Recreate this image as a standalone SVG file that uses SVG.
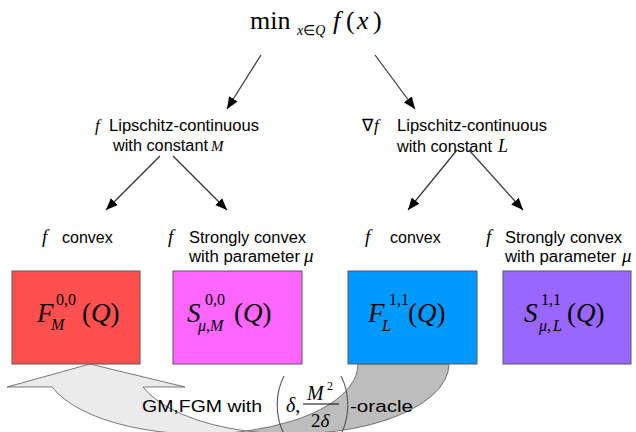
<svg xmlns="http://www.w3.org/2000/svg" width="636" height="432" viewBox="0 0 636 432">
<style>
.t{font-family:"Liberation Sans",Arial,sans-serif;font-size:16px;fill:#000}
.m{font-family:"Liberation Serif","Times New Roman",serif;font-style:italic;fill:#000}
.u{font-family:"Liberation Serif","Times New Roman",serif;font-style:normal;fill:#000}
.i{font-style:italic}
.n{font-style:normal}
.box{stroke:#595959;stroke-width:1}
.arr{stroke:#333;stroke-width:1.2;fill:none;marker-end:url(#ah)}
.rib{stroke:#595959;stroke-width:0.8}
.par{stroke:#555;stroke-width:1.1;fill:none}
</style>
<defs>
<marker id="ah" markerUnits="userSpaceOnUse" markerWidth="12" markerHeight="10" refX="12" refY="5" orient="auto" viewBox="0 0 12 10"><path d="M0,0 L12,5 L0,10 z" fill="#000"/></marker>
</defs>
<rect width="636" height="432" fill="#fff"/>

<g id="title">
<text class="u" x="250" y="29" font-size="26">min</text>
<text class="m" x="297" y="35" font-size="14">x<tspan class="n">∈</tspan>Q</text>
<text class="m" x="333" y="29" font-size="26">f</text>
<text class="u" x="346" y="29" font-size="26">(</text>
<text class="m" x="357" y="29" font-size="26">x</text>
<text class="u" x="373" y="29" font-size="26">)</text>
</g>

<g id="connectors">
<path class="arr" d="M261,55 L227,109"/>
<path class="arr" d="M375,55 L415,109"/>
<path class="arr" d="M160,156 L106,210"/>
<path class="arr" d="M173,156 L227,210"/>
<path class="arr" d="M457,150 L408,210"/>
<path class="arr" d="M469,150 L523,210"/>
</g>

<g id="lipschitz-M">
<text class="m" x="95" y="131" font-size="17">f</text>
<text class="t" x="109" y="131" textLength="150" lengthAdjust="spacingAndGlyphs">Lipschitz-continuous</text>
<text class="t" x="113" y="151" textLength="95" lengthAdjust="spacingAndGlyphs">with constant</text>
<text class="m" x="211" y="151" font-size="15">M</text>
</g>

<g id="lipschitz-L">
<text class="u" x="362" y="131" font-size="17">∇</text>
<text class="m" x="374" y="131" font-size="17">f</text>
<text class="t" x="397" y="131" textLength="150" lengthAdjust="spacingAndGlyphs">Lipschitz-continuous</text>
<text class="t" x="397" y="152" textLength="95" lengthAdjust="spacingAndGlyphs">with constant</text>
<text class="m" x="498" y="152" font-size="18">L</text>
</g>

<g id="label-convex-1">
<text class="m" x="42" y="243" font-size="19">f</text>
<text class="t" x="62" y="243">convex</text>
</g>
<g id="label-strong-1">
<text class="m" x="168" y="243" font-size="19">f</text>
<text class="t" x="189" y="243" textLength="117" lengthAdjust="spacingAndGlyphs">Strongly convex</text>
<text class="t" x="189" y="262" textLength="111" lengthAdjust="spacingAndGlyphs">with parameter</text>
<text class="m" x="304" y="262" font-size="19">μ</text>
</g>
<g id="label-convex-2">
<text class="m" x="365" y="243" font-size="19">f</text>
<text class="t" x="390" y="243">convex</text>
</g>
<g id="label-strong-2">
<text class="m" x="486" y="243" font-size="19">f</text>
<text class="t" x="505" y="243" textLength="117" lengthAdjust="spacingAndGlyphs">Strongly convex</text>
<text class="t" x="505" y="262" textLength="111" lengthAdjust="spacingAndGlyphs">with parameter</text>
<text class="m" x="622" y="262" font-size="19">μ</text>
</g>

<g id="oracle-arrow">
<path class="rib" fill="#EBEBEB" d="M90,364 L185,387 L143,387 A157,70 0 0 0 246.5,431 A157,70 0 0 1 52,387 L7,387 Z"/>
<path class="rib" fill="#BDBDBD" d="M246.5,431 A157,70 0 0 0 358,364 L449,364 A157,70 0 0 1 246.5,431 Z"/>
<text class="t" x="142" y="412" font-size="21" textLength="120" lengthAdjust="spacingAndGlyphs">GM,FGM with</text>
<path class="par" d="M284,376 C275,393 275,417 284,434"/>
<text class="m" x="286" y="412" font-size="20">δ<tspan class="n">,</tspan></text>
<text class="m" x="307" y="400" font-size="20">M</text>
<text class="u" x="327" y="390" font-size="12">2</text>
<line x1="303" y1="404" x2="339" y2="404" stroke="#000" stroke-width="1"/>
<text class="u" x="311" y="427" font-size="19">2<tspan class="i">δ</tspan></text>
<path class="par" d="M341,376 C350,393 350,417 341,434"/>
<text class="t" x="350" y="412" font-size="21" textLength="63" lengthAdjust="spacingAndGlyphs">-oracle</text>
</g>

<g id="box-F00">
<rect class="box" x="12" y="271" width="128" height="93" fill="#FF5050"/>
<text class="u" font-size="27"><tspan class="i" x="37" y="322">F</tspan><tspan x="56" y="305" font-size="16">0,0</tspan><tspan class="i" x="51" y="330" font-size="16">M</tspan><tspan x="82" y="322">(</tspan><tspan class="i">Q</tspan>)</text>
</g>
<g id="box-S00">
<rect class="box" x="173" y="271" width="129" height="93" fill="#FF66FF"/>
<text class="u" font-size="27"><tspan class="i" x="187" y="322">S</tspan><tspan x="205" y="305" font-size="16">0,0</tspan><tspan class="i" x="198" y="331" font-size="16">μ</tspan><tspan font-size="16">,</tspan><tspan class="i" font-size="16">M</tspan><tspan x="234" y="322">(</tspan><tspan class="i">Q</tspan>)</text>
</g>
<g id="box-F11">
<rect class="box" x="348" y="271" width="129" height="93" fill="#0099FF"/>
<text class="u" font-size="27"><tspan class="i" x="368" y="322">F</tspan><tspan x="389" y="305" font-size="16">1,1</tspan><tspan class="i" x="382" y="331" font-size="16">L</tspan><tspan x="408" y="322">(</tspan><tspan class="i">Q</tspan>)</text>
</g>
<g id="box-S11">
<rect class="box" x="503" y="271" width="128" height="93" fill="#9966FF"/>
<text class="u" font-size="27"><tspan class="i" x="524" y="322">S</tspan><tspan x="541" y="305" font-size="16">1,1</tspan><tspan class="i" x="539" y="331" font-size="16">μ</tspan><tspan font-size="16">,</tspan><tspan class="i" font-size="16" dx="2">L</tspan><tspan x="567" y="322">(</tspan><tspan class="i">Q</tspan>)</text>
</g>
</svg>
